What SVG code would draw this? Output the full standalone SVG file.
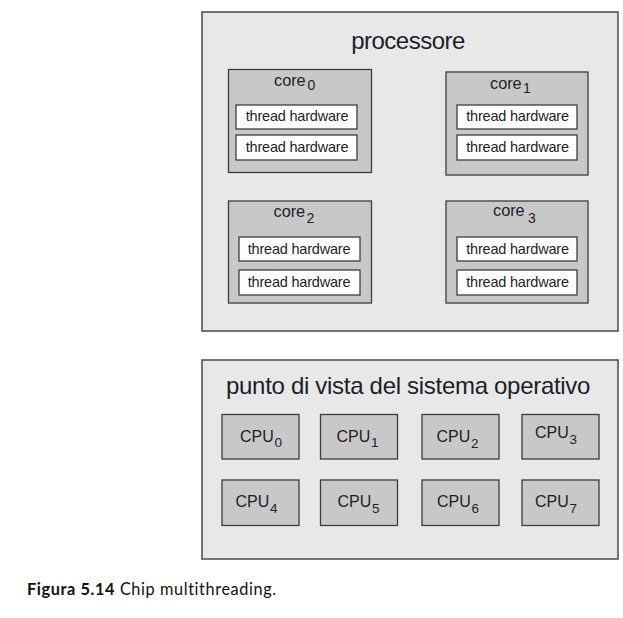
<svg xmlns="http://www.w3.org/2000/svg" width="623" height="618" viewBox="0 0 623 618">
<style>
.bg{fill:#ffffff}
.outer{fill:#e8e8e8;stroke:#4a4a4a;stroke-width:1.5}
.core{fill:#c8c8c8;stroke:#3c3c3c;stroke-width:1.3}
.thr{fill:#ffffff;stroke:#3c3c3c;stroke-width:1.3}
.cpu{fill:#c8c8c8;stroke:#3c3c3c;stroke-width:1.3}
text{font-family:"Liberation Sans",Arial,sans-serif;fill:#1e1e28}
.title{font-size:24px;letter-spacing:-0.5px}
.title2{font-size:24px;letter-spacing:-0.3px}
.th{font-size:14.5px;text-anchor:middle;letter-spacing:-0.2px}
.cl{font-size:16.3px}
.cs{font-size:14px}
.cpl{font-size:16px}
.cps{font-size:13.5px}
.cap{font-family:"Lato","Open Sans",sans-serif;font-size:16.3px;letter-spacing:0.6px;fill:#111}
</style>
<rect class="bg" x="0" y="0" width="623" height="618"/>
<g id="processore">
<rect class="outer" x="202" y="12" width="416" height="319"/>
<text class="title" x="408" y="49" text-anchor="middle">processore</text>
</g>
<g id="core0">
<rect class="core" x="228.5" y="69.5" width="143" height="103"/>
<text class="cl" x="274" y="86">core</text><text class="cs" x="307.5" y="90">0</text>
<rect class="thr" x="236" y="105" width="121" height="24"/>
<text class="th" x="297" y="121">thread hardware</text>
<rect class="thr" x="236" y="135" width="121" height="25"/>
<text class="th" x="297" y="152">thread hardware</text>
</g>
<g id="core1">
<rect class="core" x="446" y="72" width="142" height="103"/>
<text class="cl" x="490" y="88.5">core</text><text class="cs" x="523" y="93">1</text>
<rect class="thr" x="457" y="105" width="120" height="24"/>
<text class="th" x="517.5" y="121">thread hardware</text>
<rect class="thr" x="457" y="135" width="120" height="25"/>
<text class="th" x="517.5" y="152">thread hardware</text>
</g>
<g id="core2">
<rect class="core" x="228.5" y="201" width="143" height="102"/>
<text class="cl" x="273.5" y="216.5">core</text><text class="cs" x="306.5" y="223">2</text>
<rect class="thr" x="239" y="237" width="121" height="24"/>
<text class="th" x="299" y="254">thread hardware</text>
<rect class="thr" x="239" y="270" width="121" height="25"/>
<text class="th" x="299" y="287">thread hardware</text>
</g>
<g id="core3">
<rect class="core" x="446" y="201" width="142" height="102"/>
<text class="cl" x="493" y="216">core</text><text class="cs" x="528" y="222.5">3</text>
<rect class="thr" x="457" y="237" width="120" height="24"/>
<text class="th" x="517.5" y="254">thread hardware</text>
<rect class="thr" x="457" y="270" width="120" height="25"/>
<text class="th" x="517.5" y="287">thread hardware</text>
</g>
<g id="os-view">
<rect class="outer" x="202" y="360" width="416" height="199"/>
<text class="title2" x="226" y="394">punto di vista del sistema operativo</text>
</g>
<g id="cpu0"><rect class="cpu" x="222" y="414.5" width="77" height="44.5"/><text class="cpl" x="240" y="441.5">CPU</text><text class="cps" x="274.5" y="447">0</text></g>
<g id="cpu1"><rect class="cpu" x="320.5" y="414.5" width="77" height="44.5"/><text class="cpl" x="336.5" y="441.5">CPU</text><text class="cps" x="371" y="447">1</text></g>
<g id="cpu2"><rect class="cpu" x="422" y="414.5" width="77" height="44.5"/><text class="cpl" x="436.5" y="441.5">CPU</text><text class="cps" x="471" y="448">2</text></g>
<g id="cpu3"><rect class="cpu" x="522" y="414.5" width="77" height="44.5"/><text class="cpl" x="535" y="438">CPU</text><text class="cps" x="569.5" y="444">3</text></g>
<g id="cpu4"><rect class="cpu" x="222" y="480" width="77" height="45.5"/><text class="cpl" x="235.5" y="507">CPU</text><text class="cps" x="270" y="513">4</text></g>
<g id="cpu5"><rect class="cpu" x="320.5" y="480" width="77" height="45.5"/><text class="cpl" x="337.5" y="507">CPU</text><text class="cps" x="372" y="513">5</text></g>
<g id="cpu6"><rect class="cpu" x="422" y="480" width="77" height="45.5"/><text class="cpl" x="437" y="507">CPU</text><text class="cps" x="471.5" y="513">6</text></g>
<g id="cpu7"><rect class="cpu" x="522" y="480" width="77" height="45.5"/><text class="cpl" x="535" y="507">CPU</text><text class="cps" x="569.5" y="513">7</text></g>
<g id="connectors"></g>
<text class="cap" x="27" y="595"><tspan font-weight="bold">Figura 5.14</tspan> Chip multithreading.</text>
</svg>
